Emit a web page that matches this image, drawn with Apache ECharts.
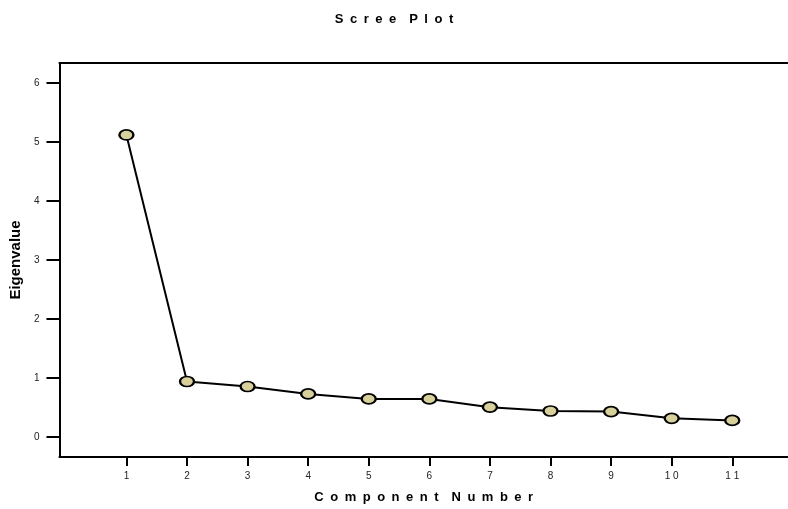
<!DOCTYPE html>
<html>
<head>
<meta charset="utf-8">
<script src="https://cdn.jsdelivr.net/npm/echarts@6/dist/echarts.min.js"></script>
<style>
  html, body { margin: 0; padding: 0; background: #ffffff; }
  #chart { width: 788px; height: 509px; }
</style>
</head>
<body>
<div id="chart"></div>
<script>
// Scree plot: eigenvalue of each extracted component
const components = [1, 2, 3, 4, 5, 6, 7, 8, 9, 10, 11];
const eigenvalues = [5.12, 0.94, 0.855, 0.73, 0.645, 0.645, 0.505, 0.44, 0.43, 0.315, 0.28];
const yTicks = [0, 1, 2, 3, 4, 5, 6];

const SP = '\u2002'; // en space used to spread the heading letters
const spread = (s) => s.split(' ').map(w => w.split('').join(SP)).join(SP + SP);

const fontFamily = '"Liberation Sans", Arial, sans-serif';

const chart = echarts.init(document.getElementById('chart'), null, { renderer: 'canvas' });

chart.setOption({
  animation: false,
  backgroundColor: '#ffffff',
  title: {
    text: spread('Scree Plot'),
    left: 'center',
    top: 8,
    textStyle: { fontFamily, fontSize: 13, fontWeight: 'bold', color: '#000' }
  },
  grid: { left: 59, right: 0, top: 63, bottom: 50 },
  xAxis: [
    {
      type: 'value',
      min: -0.105,
      max: 11.92,
      name: spread('Component Number'),
      nameLocation: 'middle',
      nameGap: 34,
      nameTextStyle: { fontFamily, fontSize: 13, fontWeight: 'bold', color: '#000' },
      axisLine: { show: true, onZero: false, lineStyle: { color: '#000', width: 2 } },
      axisTick: { show: true, inside: false, length: 9, customValues: components,
                  lineStyle: { color: '#000', width: 2 } },
      axisLabel: { show: true, margin: 14, customValues: components,
                   formatter: (v) => String(v).split('').join(' '),
                   fontFamily, fontSize: 10, color: '#222' },
      splitLine: { show: false }
    },
    {
      // upper frame line
      type: 'value',
      position: 'top',
      min: -0.105,
      max: 11.92,
      axisLine: { show: true, onZero: false, lineStyle: { color: '#000', width: 2 } },
      axisTick: { show: false },
      axisLabel: { show: false },
      splitLine: { show: false }
    }
  ],
  yAxis: {
    type: 'value',
    min: -0.34,
    max: 6.34,
    name: 'Eigenvalue',
    nameLocation: 'middle',
    nameGap: 33,
    nameTextStyle: { fontFamily, fontSize: 15, fontWeight: 'bold', color: '#000' },
    axisLine: { show: true, onZero: false, lineStyle: { color: '#000', width: 2 } },
    axisTick: { show: true, inside: false, length: 13, customValues: yTicks,
                lineStyle: { color: '#000', width: 2 } },
    axisLabel: { show: true, margin: 20, customValues: yTicks,
                 fontFamily, fontSize: 10, color: '#222' },
    splitLine: { show: false }
  },
  series: [
    {
      type: 'line',
      xAxisIndex: 0,
      data: components.map((c, i) => [c, eigenvalues[i]]),
      symbol: 'circle',
      symbolSize: [14, 10],
      showAllSymbol: true,
      lineStyle: { color: '#000', width: 2 },
      itemStyle: { color: '#d8d09a', borderColor: '#000', borderWidth: 2 }
    }
  ]
});
</script>
</body>
</html>
